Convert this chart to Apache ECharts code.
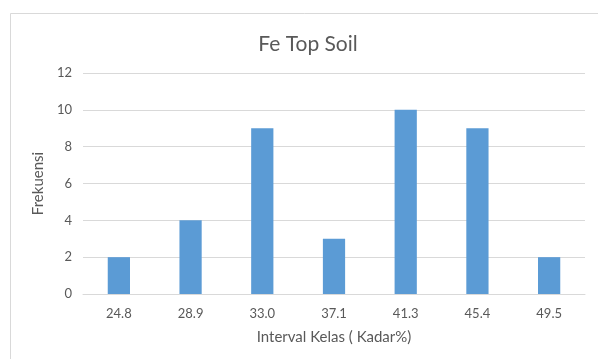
<!DOCTYPE html>
<html>
<head>
<meta charset="utf-8">
<script src="https://cdn.jsdelivr.net/npm/echarts@6/dist/echarts.min.js"></script>
<style>
html,body{margin:0;padding:0;background:#fff;}
#chart{width:598px;height:359px;}
</style>
</head>
<body>
<div id="chart"></div>
<script>
const categories = ['24.8', '28.9', '33.0', '37.1', '41.3', '45.4', '49.5'];
const frequencies = [2, 4, 9, 3, 10, 9, 2];
const yTicks = { min: 0, max: 12, interval: 2 };
const titleText = 'Fe Top Soil';
const xName = 'Interval Kelas ( Kadar%)';
const yName = 'Frekuensi';

const font = 'Lato, "Open Sans", sans-serif';
const chart = echarts.init(document.getElementById('chart'), null, { renderer: 'canvas' });
chart.setOption({
  animation: false,
  backgroundColor: '#fff',
  graphic: [{
    type: 'rect',
    shape: { x: 10.5, y: 13.5, width: 600, height: 360 },
    style: { fill: 'none', stroke: '#d9d9d9', lineWidth: 1 },
    silent: true
  }],
  title: {
    text: titleText,
    left: 303, top: 29, textAlign: 'center',
    textStyle: { fontFamily: font, fontSize: 21, fontWeight: 'normal', color: '#595959' }
  },
  grid: { left: 83, right: 13, top: 73, bottom: 65, containLabel: false },
  xAxis: {
    type: 'category',
    data: categories,
    name: xName,
    nameLocation: 'middle',
    nameGap: 36,
    nameTextStyle: { fontFamily: font, fontSize: 15, color: '#595959' },
    axisLine: { lineStyle: { color: '#d9d9d9' } },
    axisTick: { show: false },
    axisLabel: { fontFamily: font, fontSize: 13, color: '#595959', margin: 13 }
  },
  yAxis: {
    type: 'value',
    min: yTicks.min, max: yTicks.max, interval: yTicks.interval,
    name: yName,
    nameLocation: 'middle',
    nameGap: 33,
    nameRotate: 90,
    nameTextStyle: { fontFamily: font, fontSize: 15, color: '#595959' },
    axisLine: { show: false },
    axisTick: { show: false },
    splitLine: { lineStyle: { color: '#d9d9d9' } },
    axisLabel: { fontFamily: font, fontSize: 13, color: '#595959', margin: 11 }
  },
  series: [{
    type: 'bar',
    data: frequencies,
    barWidth: '31%',
    itemStyle: { color: '#5b9bd5' }
  }]
});
</script>
</body>
</html>
